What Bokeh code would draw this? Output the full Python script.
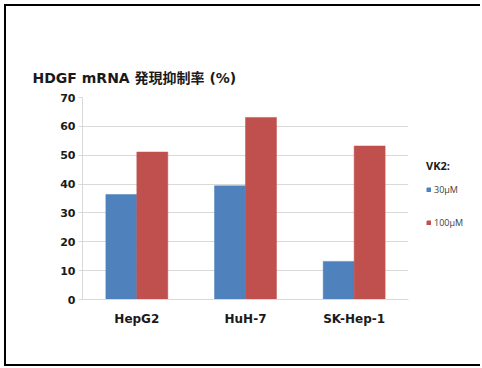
from bokeh.plotting import figure
from bokeh.layouts import row, column
from bokeh.models import (ColumnDataSource, FactorRange, FixedTicker,
                          Legend, LegendItem, Range1d, Spacer)
from bokeh.transform import dodge
from bokeh.embed import file_html
from bokeh.resources import INLINE

# --- data -------------------------------------------------------------
cell_lines = ["HepG2", "HuH-7", "SK-Hep-1"]
vk2_30uM = [36.4, 39.4, 13.2]
vk2_100uM = [51.1, 63.1, 53.2]
series_labels = ["30μM", "100μM"]
y_ticks = [0, 10, 20, 30, 40, 50, 60, 70]
title_text = "HDGF mRNA 発現抑制率 (%)"
legend_title = "VK2:"

BLUE = "#4F81BD"
RED = "#C0504D"
GRID = "#D9D9D9"
TEXT = "#1A1A1A"

source = ColumnDataSource(dict(cell=cell_lines, low=vk2_30uM, high=vk2_100uM))

p = figure(
    x_range=FactorRange(*cell_lines, range_padding=0),
    y_range=(0, 70),
    width=403, height=358,
    output_backend="svg", toolbar_location=None,
    min_border_left=76, min_border_right=1,
    min_border_top=91, min_border_bottom=65,
)
p.outline_line_color = None
p.background_fill_color = "white"
p.border_fill_color = "white"

# chart title
p.title.text = title_text
p.title.align = "left"
p.title.offset = -50
p.title.text_font = "DejaVu Sans, Noto Sans CJK JP"
p.title.text_font_style = "bold"
p.title.text_font_size = "14px"
p.title.text_color = TEXT
p.title.standoff = 24

bw = 0.285
r_low = p.vbar(x=dodge("cell", -bw / 2, range=p.x_range), top="low", width=bw,
               source=source, fill_color=BLUE, line_color=BLUE, line_width=0.5)
r_high = p.vbar(x=dodge("cell", bw / 2, range=p.x_range), top="high", width=bw,
                source=source, fill_color=RED, line_color=RED, line_width=0.5)

# axes
p.xgrid.grid_line_color = None
p.ygrid.grid_line_color = GRID
p.ygrid.grid_line_width = 1
p.yaxis.ticker = FixedTicker(ticks=y_ticks)
p.yaxis.minor_tick_line_color = None
p.yaxis.major_tick_in = 0
p.yaxis.major_tick_out = 4
p.yaxis.major_tick_line_color = GRID
p.yaxis.axis_line_color = GRID
p.yaxis.major_label_standoff = 3
p.yaxis.major_label_text_font = "DejaVu Sans"
p.yaxis.major_label_text_font_style = "bold"
p.yaxis.major_label_text_font_size = "11px"
p.yaxis.major_label_text_color = TEXT

p.xaxis.major_tick_line_color = None
p.xaxis.minor_tick_line_color = None
p.xaxis.major_tick_out = 0
p.xaxis.major_tick_in = 0
p.xaxis.axis_line_color = GRID
p.xaxis.major_label_standoff = 12
p.xaxis.major_label_text_font = "DejaVu Sans"
p.xaxis.major_label_text_font_style = "bold"
p.xaxis.major_label_text_font_size = "12px"
p.xaxis.major_label_text_color = TEXT

# narrow side panel holding the legend (key swatches sit outside its view)
lf = figure(width=71, height=358, x_axis_type=None, y_axis_type=None,
            x_range=Range1d(0, 1), y_range=Range1d(0, 1),
            output_backend="svg", toolbar_location=None, min_border=0)
lf.outline_line_color = None
lf.grid.grid_line_color = None
lf.background_fill_color = "white"
lf.border_fill_color = "white"
key_src = ColumnDataSource(dict(x=[5], top=[5]))
k_low = lf.vbar(x="x", top="top", bottom=4, width=1, source=key_src,
                fill_color=BLUE, line_color=BLUE)
k_high = lf.vbar(x="x", top="top", bottom=4, width=1, source=key_src,
                 fill_color=RED, line_color=RED)

legend = Legend(
    items=[LegendItem(label=series_labels[0], renderers=[k_low]),
           LegendItem(label=series_labels[1], renderers=[k_high])],
    location=(17, 67),
    title=legend_title,
    title_text_font="Open Sans", title_text_font_style="bold",
    title_text_font_size="11px", title_text_color=TEXT,
    title_standoff=6,
    label_text_font="Open Sans", label_text_font_size="9px",
    label_text_color="#404040",
    glyph_width=5, glyph_height=5, label_standoff=3,
    label_height=20, spacing=13, padding=0, margin=0,
    border_line_color=None, background_fill_alpha=0,
)
lf.add_layout(legend)

# black frame: left, top and bottom edges
def edge(w, h):
    return Spacer(width=w, height=h, styles={"background-color": "black"})

layout = column(
    Spacer(width=480, height=4),
    row(Spacer(width=4, height=2), edge(476, 2), spacing=0),
    row(Spacer(width=4, height=358), edge(2, 358), p, lf, spacing=0),
    row(Spacer(width=4, height=2), edge(476, 2), spacing=0),
    spacing=0,
)
open("out.html", "w").write(file_html(layout, INLINE))
